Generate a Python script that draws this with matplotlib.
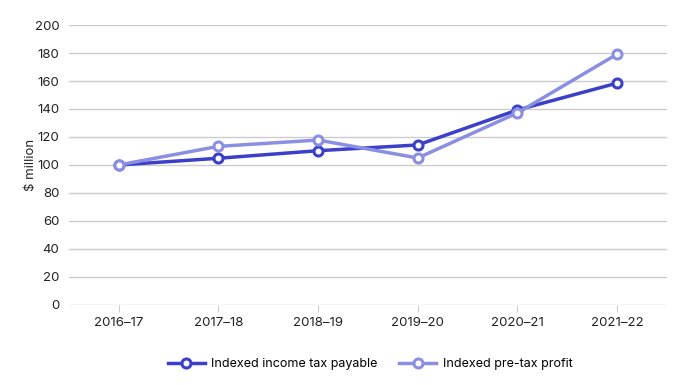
import matplotlib.pyplot as plt

plt.rcParams['font.family'] = ['Inter', 'DejaVu Sans']

years = ['2016–17', '2017–18', '2018–19', '2019–20', '2020–21', '2021–22']
tax_payable = [100, 104.8, 110.2, 114.3, 139.3, 158.5]
pretax_profit = [100, 113.3, 117.8, 105.0, 137.2, 179.2]

dark = '#3b3fc9'
light = '#8b8fe2'

fig = plt.figure(figsize=(6.89, 3.85), dpi=100)
ax = fig.add_axes([0.1, 0.208, 0.868, 0.727])

x = range(len(years))
ax.plot(x, tax_payable, color=dark, lw=2.5, marker='o', ms=6.5,
        mfc='white', mec=dark, mew=2.2, label='Indexed income tax payable', zorder=3)
ax.plot(x, pretax_profit, color=light, lw=2.5, marker='o', ms=6.5,
        mfc='white', mec=light, mew=2.2, label='Indexed pre-tax profit', zorder=3)

ax.set_xlim(-0.5, len(years) - 0.5)
ax.set_ylim(0, 200)
ax.set_yticks(range(0, 201, 20))
ax.set_xticks(list(x))
ax.set_xticklabels(years)
ax.grid(axis='y', color='#cccccc', lw=1)
ax.set_axisbelow(True)
for s in ax.spines.values():
    s.set_visible(False)
ax.tick_params(axis='y', length=0, pad=7, labelsize=9.5, colors='#222222')
ax.tick_params(axis='x', length=5, color='#cccccc', pad=4, labelsize=9.5, colors='#222222')
ax.set_ylabel('$ million', fontsize=9.5, color='#222222', labelpad=-2)

fig.legend(loc='lower center', bbox_to_anchor=(0.537, 0.0), ncol=2, frameon=False,
           fontsize=9, handlelength=3.0, columnspacing=1.7, handletextpad=0.5,
           borderaxespad=0.8)

fig.savefig('out.png', dpi=100)
